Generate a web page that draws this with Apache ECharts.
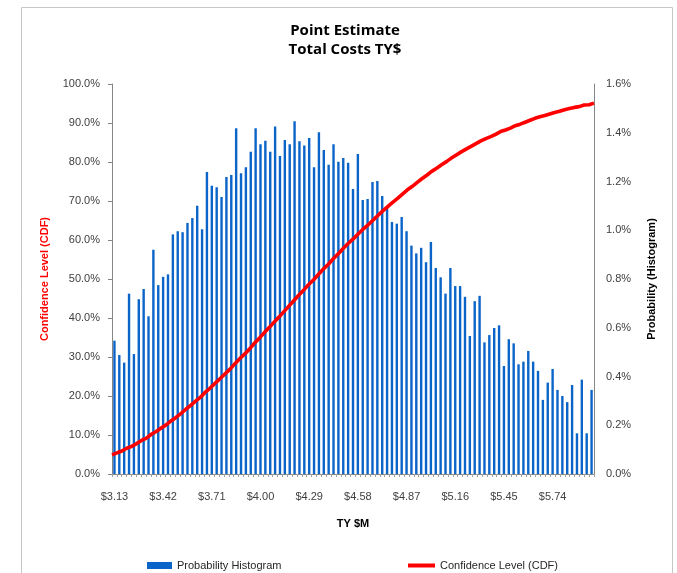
<!DOCTYPE html>
<html>
<head>
<meta charset="utf-8">
<script src="https://cdn.jsdelivr.net/npm/echarts@6/dist/echarts.min.js"></script>
<style>
  html, body { margin: 0; padding: 0; background: #fff; }
  #chart { width: 677px; height: 573px; }
</style>
</head>
<body>
<div id="chart"></div>
<script>
// Cost bins (TY $M), one per histogram bar
const costBins = [
  '3.13','3.16','3.19','3.22','3.25','3.28','3.30','3.33','3.36','3.39',
  '3.42','3.45','3.48','3.51','3.54','3.57','3.59','3.62','3.65','3.68',
  '3.71','3.74','3.77','3.80','3.83','3.86','3.88','3.91','3.94','3.97',
  '4.00','4.03','4.06','4.09','4.12','4.15','4.17','4.20','4.23','4.26',
  '4.29','4.32','4.35','4.38','4.41','4.44','4.46','4.49','4.52','4.55',
  '4.58','4.61','4.64','4.67','4.70','4.73','4.75','4.78','4.81','4.84',
  '4.87','4.90','4.93','4.96','4.99','5.02','5.04','5.07','5.10','5.13',
  '5.16','5.19','5.22','5.25','5.28','5.31','5.33','5.36','5.39','5.42',
  '5.45','5.48','5.51','5.54','5.57','5.60','5.62','5.65','5.68','5.71',
  '5.74','5.77','5.80','5.83','5.86','5.89','5.91','5.94','5.97'
];

// Probability of each bin, in percent (right axis)
const probability = [
  0.547,0.488,0.457,0.740,0.492,0.717,0.759,0.647,0.920,0.775,
  0.809,0.819,0.983,0.996,0.992,1.030,1.050,1.101,1.004,1.239,
  1.183,1.176,1.136,1.218,1.227,1.418,1.234,1.258,1.322,1.418,
  1.353,1.367,1.322,1.426,1.305,1.370,1.353,1.447,1.365,1.348,
  1.378,1.258,1.402,1.329,1.269,1.353,1.281,1.296,1.277,1.169,
  1.313,1.124,1.128,1.198,1.202,1.141,1.090,1.034,1.027,1.054,
  0.996,0.937,0.905,0.928,0.869,0.952,0.845,0.807,0.740,0.845,
  0.771,0.771,0.727,0.566,0.709,0.731,0.540,0.570,0.599,0.610,
  0.443,0.553,0.536,0.450,0.461,0.505,0.461,0.423,0.304,0.375,
  0.431,0.345,0.320,0.295,0.365,0.167,0.387,0.167,0.345
];

// Cumulative confidence level, in percent (left axis)
const confidence = [
  4.9,5.4,5.9,6.6,7.1,7.8,8.6,9.2,10.2,10.9,
  11.8,12.6,13.6,14.5,15.5,16.6,17.6,18.7,19.7,21.0,
  22.1,23.3,24.5,25.7,26.9,28.3,29.6,30.8,32.1,33.6,
  34.9,36.3,37.6,39.0,40.3,41.7,43.1,44.5,45.9,47.2,
  48.6,49.8,51.2,52.6,53.8,55.2,56.5,57.8,59.1,60.2,
  61.5,62.7,63.8,65.0,66.2,67.4,68.5,69.6,70.6,71.7,
  72.8,73.7,74.7,75.7,76.6,77.6,78.4,79.3,80.1,81.0,
  81.8,82.6,83.3,84.0,84.7,85.4,86.0,86.5,87.1,87.8,
  88.2,88.7,89.3,89.7,90.2,90.7,91.2,91.6,91.9,92.3,
  92.7,93.0,93.4,93.7,94.0,94.2,94.6,94.7,95.1
];

const chartTitle = 'Point Estimate\nTotal Costs TY$';
const xTitle = 'TY $M';
const leftTitle = 'Confidence Level (CDF)';
const rightTitle = 'Probability (Histogram)';
const barName = 'Probability Histogram';
const lineName = 'Confidence Level (CDF)';

const FONT = '"Liberation Sans", Arial, sans-serif';
const TITLE_FONT = '"Open Sans", "Liberation Sans", sans-serif';
const AXIS_GREY = '#868686';
const LABEL_GREY = '#404040';

const chart = echarts.init(document.getElementById('chart'), null, { renderer: 'canvas' });

chart.setOption({
  animation: false,
  backgroundColor: '#ffffff',
  graphic: [{
    type: 'rect',
    shape: { x: 21.5, y: 7.5, width: 651, height: 620 },
    style: { fill: 'none', stroke: '#c6c6c6', lineWidth: 1 },
    silent: true
  }, {
    // two-line chart heading
    type: 'text',
    x: 345,
    y: 21,
    style: {
      text: chartTitle,
      fontFamily: TITLE_FONT,
      fontSize: 15,
      fontWeight: 'bold',
      fill: '#000',
      lineHeight: 19,
      align: 'center',
      verticalAlign: 'top'
    },
    silent: true
  }],
  legend: [{
    data: [{ name: barName, icon: 'rect' }],
    left: 147,
    top: 560,
    padding: 0,
    itemWidth: 25,
    itemHeight: 7,
    textStyle: { fontFamily: FONT, fontSize: 11, color: '#262626' }
  }, {
    data: [{ name: lineName, icon: 'rect' }],
    left: 408,
    top: 560,
    padding: 0,
    itemWidth: 27,
    itemHeight: 4,
    textStyle: { fontFamily: FONT, fontSize: 11, color: '#262626' }
  }],
  grid: { left: 112, right: 83, top: 84, bottom: 99, containLabel: false },
  xAxis: [{
    type: 'category',
    data: costBins,
    boundaryGap: true,
    name: xTitle,
    nameLocation: 'middle',
    nameGap: 44,
    nameTextStyle: { fontFamily: FONT, fontSize: 11, fontWeight: 'bold', color: '#000' },
    axisLine: { lineStyle: { color: AXIS_GREY, width: 1 } },
    axisTick: { show: true, interval: 0, length: 3, lineStyle: { color: '#a0a0a0' } },
    axisLabel: {
      interval: 9,
      margin: 17,
      fontFamily: FONT,
      fontSize: 11,
      color: LABEL_GREY,
      formatter: v => '$' + v
    },
    splitLine: { show: false }
  }, {
    type: 'category',
    data: costBins,
    boundaryGap: false,
    show: false
  }],
  yAxis: [{
    type: 'value',
    position: 'left',
    min: 0,
    max: 100,
    interval: 10,
    name: leftTitle,
    nameLocation: 'middle',
    nameGap: 62,
    nameRotate: 90,
    nameTextStyle: { fontFamily: FONT, fontSize: 11, fontWeight: 'bold', color: '#ff0000' },
    axisLine: { show: true, lineStyle: { color: AXIS_GREY, width: 1 } },
    axisTick: { show: true, length: 4, lineStyle: { color: AXIS_GREY } },
    axisLabel: {
      margin: 12,
      fontFamily: FONT,
      fontSize: 11,
      color: LABEL_GREY,
      formatter: v => v.toFixed(1) + '%'
    },
    splitLine: { show: false }
  }, {
    type: 'value',
    position: 'right',
    min: 0,
    max: 1.6,
    interval: 0.2,
    name: rightTitle,
    nameLocation: 'middle',
    nameGap: 52,
    nameRotate: 90,
    nameTextStyle: { fontFamily: FONT, fontSize: 11, fontWeight: 'bold', color: '#000' },
    axisLine: { show: true, lineStyle: { color: AXIS_GREY, width: 1 } },
    axisTick: { show: false },
    axisLabel: {
      margin: 12,
      fontFamily: FONT,
      fontSize: 11,
      color: LABEL_GREY,
      formatter: v => v.toFixed(1) + '%'
    },
    splitLine: { show: false }
  }],
  series: [{
    name: barName,
    type: 'bar',
    xAxisIndex: 0,
    yAxisIndex: 1,
    data: probability,
    barWidth: 2.4,
    itemStyle: { color: '#0b64c8' },
    z: 2
  }, {
    name: lineName,
    type: 'line',
    xAxisIndex: 1,
    yAxisIndex: 0,
    data: confidence,
    symbol: 'none',
    smooth: false,
    lineStyle: { color: '#ff0000', width: 3.6 },
    itemStyle: { color: '#ff0000' },
    z: 3
  }]
});
</script>
</body>
</html>
